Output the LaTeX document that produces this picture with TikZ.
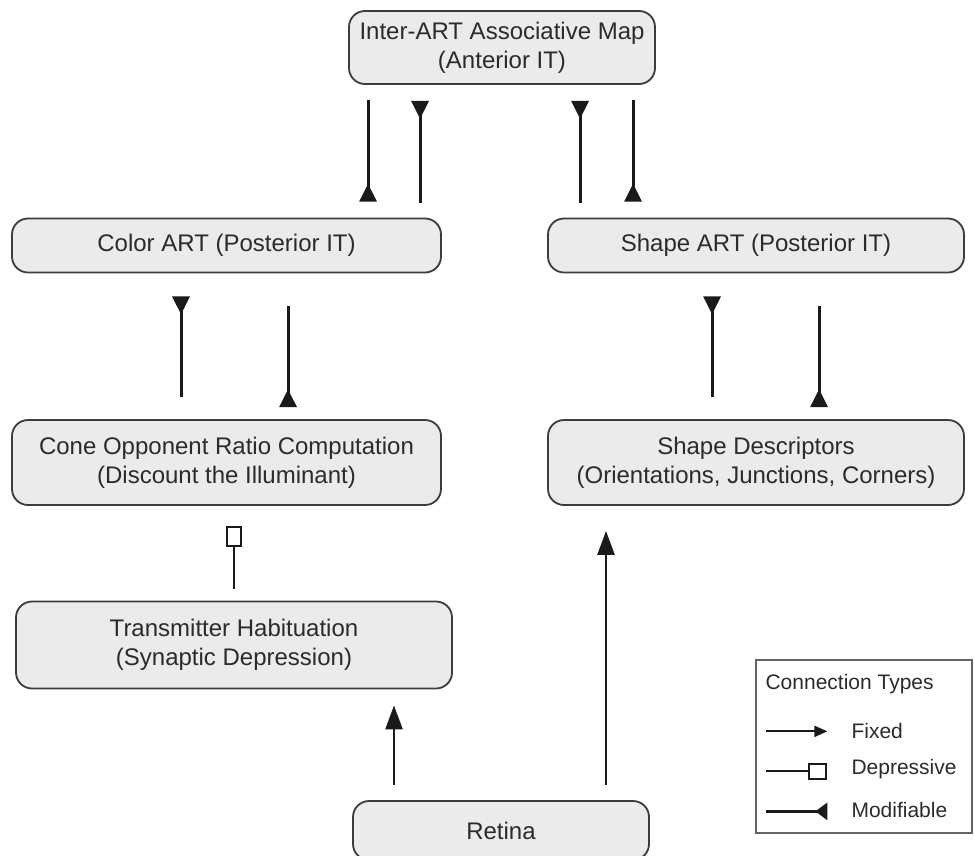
\documentclass[tikz,border=0pt]{standalone}
\usepackage{fontspec}
\setmainfont{Liberation Sans}
\usetikzlibrary{arrows.meta,calc}
\definecolor{boxline}{HTML}{3C3C3C}
\definecolor{boxfill}{HTML}{EBEBEB}
\definecolor{txt}{HTML}{2B2B2B}
\definecolor{ink}{HTML}{1A1A1A}
\begin{document}
\begin{tikzpicture}[x=1pt,y=-1pt,
  box/.style={draw=boxline, fill=boxfill, line width=1.8pt, rounded corners=16pt, align=center,
    font=\fontsize{24}{29}\selectfont, text=txt, inner sep=0pt},
  modif/.style={draw=ink, line width=3pt, -{Triangle[reversed,width=17pt,length=18pt]}},
  fixed/.style={draw=ink, line width=2.6pt, -{Triangle[width=17pt,length=24pt]}},
  depr/.style={draw=ink, line width=2.4pt, -{Square[open,width=16pt,length=21pt]}},
  legendbox/.style={draw=boxline!80, line width=1.3pt, fill=white, inner sep=0pt},
  legtext/.style={anchor=west, font=\fontsize{21}{25}\selectfont, text=txt, inner sep=0pt},
]
\useasboundingbox (0,0) rectangle (974,855);
\clip (0,0) rectangle (974,855);

% boxes
\node[box, minimum width=306pt, minimum height=73pt] (inter) at (502,47.5)
  {Inter-ART Associative Map\\(Anterior IT)};
\node[box, minimum width=429pt, minimum height=54pt] (colorart) at (226.5,245.5)
  {Color ART (Posterior IT)};
\node[box, minimum width=416pt, minimum height=54pt] (shapeart) at (756,245.5)
  {Shape ART (Posterior IT)};
\node[box, minimum width=429pt, minimum height=85pt] (cone) at (226.5,462.5)
  {Cone Opponent Ratio Computation\\(Discount the Illuminant)};
\node[box, minimum width=416pt, minimum height=85pt] (shapedesc) at (756,462.5)
  {Shape Descriptors\\(Orientations, Junctions, Corners)};
\node[box, minimum width=436pt, minimum height=87pt] (trans) at (234,645)
  {Transmitter Habituation\\(Synaptic Depression)};
\node[box, minimum width=296pt, minimum height=59pt] (retina) at (501,830.5)
  {Retina};

% x positions of connectors
\coordinate (xa) at (368,0);
\coordinate (xb) at (420,0);
\coordinate (xc) at (580,0);
\coordinate (xd) at (633,0);
\coordinate (xe) at (181,0);
\coordinate (xf) at (288,0);
\coordinate (xg) at (712,0);
\coordinate (xh) at (819,0);
\coordinate (xi) at (234,0);
\coordinate (xj) at (394,0);
\coordinate (xk) at (606,0);

% modifiable connections
\draw[modif, shorten <=15pt, shorten >=16pt] (inter.south -| xa) -- (colorart.north -| xa);
\draw[modif, shorten <=15pt, shorten >=16pt] (colorart.north -| xb) -- (inter.south -| xb);
\draw[modif, shorten <=15pt, shorten >=16pt] (shapeart.north -| xc) -- (inter.south -| xc);
\draw[modif, shorten <=15pt, shorten >=16pt] (inter.south -| xd) -- (shapeart.north -| xd);
\draw[modif, shorten <=22pt, shorten >=23pt] (cone.north -| xe) -- (colorart.south -| xe);
\draw[modif, shorten <=33pt, shorten >=12pt] (colorart.south -| xf) -- (cone.north -| xf);
\draw[modif, shorten <=22pt, shorten >=23pt] (shapedesc.north -| xg) -- (shapeart.south -| xg);
\draw[modif, shorten <=33pt, shorten >=12pt] (shapeart.south -| xh) -- (shapedesc.north -| xh);

% depressive connection
\draw[depr, shorten <=12pt, shorten >=20pt] (trans.north -| xi) -- (cone.south -| xi);

% fixed connections
\draw[fixed, shorten <=15pt, shorten >=16pt] (retina.north -| xj) -- (trans.south -| xj);
\draw[fixed, shorten <=15pt, shorten >=25pt] (retina.north -| xk) -- (shapedesc.south -| xk);

% legend
\node[legendbox, minimum width=216pt, minimum height=173pt] (legend) at (864,746.5) {};
\node[legtext] (lt) at ($(legend.north west)+(10,25)$) {Connection Types};
\coordinate (lf1) at ($(legend.north west)+(11,72)$);
\coordinate (lf2) at ($(legend.north west)+(72,72)$);
\coordinate (ld1) at ($(legend.north west)+(11,112)$);
\coordinate (ld2) at ($(legend.north west)+(72,112)$);
\coordinate (lm1) at ($(legend.north west)+(11,152)$);
\coordinate (lm2) at ($(legend.north west)+(72,152)$);
\draw[draw=ink, line width=2pt, -{Triangle[width=11pt,length=13pt]}] (lf1) -- (lf2);
\draw[draw=ink, line width=2pt, -{Square[open,width=17pt,length=19pt]}] (ld1) -- (ld2);
\draw[draw=ink, line width=3.4pt, -{Triangle[reversed,width=17pt,length=12pt]}] (lm1) -- (lm2);
\node[legtext] (lfix) at ($(legend.north west)+(96,72)$) {Fixed};
\node[legtext] (ldep) at ($(legend.north west)+(96,110)$) {Depressive};
\node[legtext] (lmod) at ($(legend.north west)+(96,151)$) {Modifiable};
\end{tikzpicture}
\end{document}
